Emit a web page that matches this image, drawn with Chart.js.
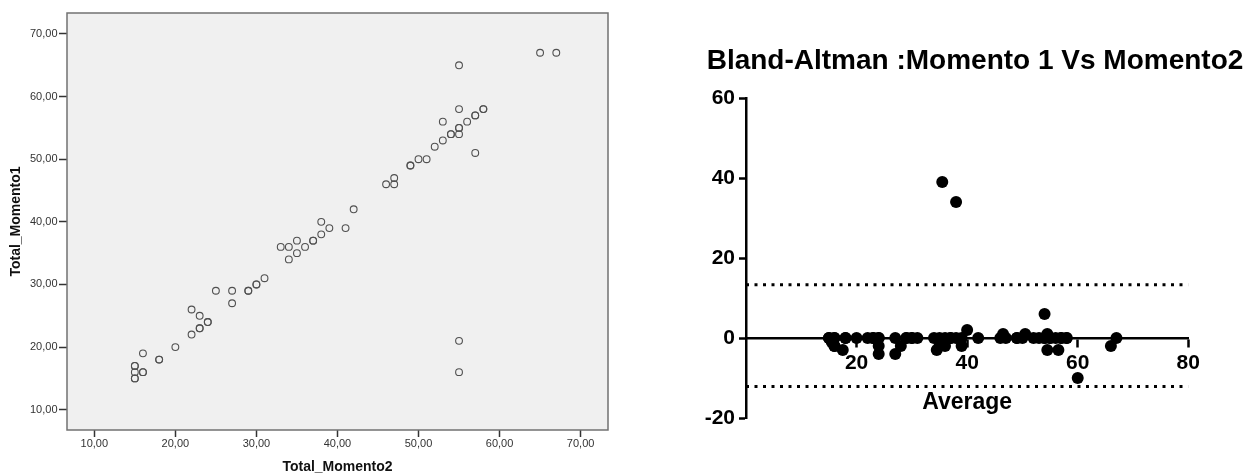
<!DOCTYPE html>
<html>
<head>
<meta charset="utf-8">
<script src="https://cdn.jsdelivr.net/npm/chart.js@4.4.1/dist/chart.umd.min.js"></script>
<style>
  body { margin: 0; background: #fff; width: 1255px; height: 474px; overflow: hidden; position: relative; }
  #scatter { position: absolute; left: 0; top: 0; }
  #bland { position: absolute; left: 660px; top: 0; }
</style>
</head>
<body>
<canvas id="scatter" width="620" height="474"></canvas>
<canvas id="bland" width="630" height="474"></canvas>
<script>
// scatter: Total_Momento2 (x) against Total_Momento1 (y), darker circles are repeated cases
const momento2 = [15, 15, 15, 15, 15, 16, 16, 16, 18, 18, 20, 22, 22, 23, 23, 23, 24, 24, 25, 27, 27, 29, 29, 30, 30, 31, 33, 34, 34, 35, 35, 36, 37, 37, 38, 38, 39, 41, 42, 46, 47, 47, 49, 49, 50, 51, 52, 53, 53, 54, 54, 55, 55, 55, 55, 55, 55, 55, 56, 57, 57, 57, 58, 58, 65, 67];
const momento1 = [15, 15, 16, 17, 17, 16, 16, 19, 18, 18, 20, 22, 26, 23, 23, 25, 24, 24, 29, 27, 29, 29, 29, 30, 30, 31, 36, 34, 36, 35, 37, 36, 37, 37, 38, 40, 39, 39, 42, 46, 46, 47, 49, 49, 50, 50, 52, 53, 56, 54, 54, 16, 21, 54, 55, 55, 58, 65, 56, 51, 57, 57, 58, 58, 67, 67];

// Bland-Altman: average of the two moments and their difference
const baAverage = [15, 15, 15.5, 16, 16, 16, 16, 17.5, 18, 18, 20, 22, 24, 23, 23, 24, 24, 24, 27, 27, 28, 29, 29, 30, 30, 31, 34.5, 34, 35, 35, 36, 36, 37, 37, 38, 39, 39, 40, 42, 46, 46.5, 47, 49, 49, 50, 50.5, 52, 53, 54.5, 54, 54, 35.5, 38, 54.5, 55, 55, 56.5, 60, 56, 54, 57, 57, 58, 58, 66, 67];
const baDifference = [0, 0, -1, -2, -2, 0, 0, -3, 0, 0, 0, 0, -4, 0, 0, -2, 0, 0, -4, 0, -2, 0, 0, 0, 0, 0, -3, 0, -2, 0, -2, 0, 0, 0, 0, -2, 0, 2, 0, 0, 1, 0, 0, 0, 0, 1, 0, 0, -3, 0, 0, 39, 34, 1, 0, 0, -3, -10, 0, 6, 0, 0, 0, 0, -2, 0];
const upperLimit = 13.3;
const lowerLimit = -12.1;

const xTicksLeft = [10, 20, 30, 40, 50, 60, 70];
const yTicksLeft = [10, 20, 30, 40, 50, 60, 70];
const xTicksRight = [20, 40, 60, 80];
const yTicksRight = [-20, 0, 20, 40, 60];

Chart.defaults.font.family = "'Liberation Sans', Arial, sans-serif";

const fmt = v => v.toFixed(2).replace('.', ',');

// grey plot box like SPSS
const plotFrame = {
    id: 'plotFrame',
    beforeDatasetsDraw(chart) {
        const { ctx, chartArea: a } = chart;
        ctx.save();
        ctx.fillStyle = '#f0f0f0';
        ctx.fillRect(a.left, a.top, a.width, a.height);
        ctx.strokeStyle = '#727272';
        ctx.lineWidth = 1.5;
        ctx.strokeRect(a.left, a.top, a.width, a.height);
        ctx.restore();
    }
};

new Chart(document.getElementById('scatter'), {
    type: 'scatter',
    data: {
        datasets: [{
            data: momento2.map((x, i) => ({ x, y: momento1[i] })),
            pointRadius: 3.4,
            pointHoverRadius: 3.4,
            pointBorderWidth: 1.1,
            borderColor: '#505050',
            backgroundColor: 'rgba(0,0,0,0)'
        }]
    },
    options: {
        responsive: false,
        animation: false,
        devicePixelRatio: 1,
        layout: { padding: { top: 13, right: 12, bottom: 0, left: 0 } },
        plugins: { legend: { display: false }, tooltip: { enabled: false } },
        scales: {
            x: {
                type: 'linear', min: 6.63, max: 73.38,
                afterBuildTicks: s => { s.ticks = xTicksLeft.map(v => ({ value: v })); },
                afterFit: s => { s.height = 44; },
                grid: { drawOnChartArea: false, tickLength: 7, tickColor: '#333', tickWidth: 1.5 },
                border: { display: false },
                ticks: { color: '#333', font: { size: 11 }, padding: 0, maxRotation: 0, callback: v => fmt(v) },
                title: { display: true, text: 'Total_Momento2', color: '#111', font: { size: 14, weight: 'bold', lineHeight: 1 }, padding: { top: 0, bottom: 0 } }
            },
            y: {
                type: 'linear', min: 6.76, max: 73.35,
                afterBuildTicks: s => { s.ticks = yTicksLeft.map(v => ({ value: v })); },
                afterFit: s => { s.width = 67; },
                grid: { drawOnChartArea: false, tickLength: 8, tickColor: '#333', tickWidth: 1.5 },
                border: { display: false },
                ticks: { color: '#333', font: { size: 11 }, padding: 1.5, callback: v => fmt(v) },
                title: { display: true, text: 'Total_Momento1', color: '#111', font: { size: 14, weight: 'bold', lineHeight: 1 }, padding: { top: 9, bottom: 0 } }
            }
        }
    },
    plugins: [plotFrame]
});

new Chart(document.getElementById('bland'), {
    type: 'scatter',
    data: {
        datasets: [{
            data: baAverage.map((x, i) => ({ x, y: baDifference[i] })),
            pointRadius: 6,
            pointHoverRadius: 6,
            pointBorderWidth: 0,
            backgroundColor: '#000',
            borderColor: '#000'
        }, {
            data: [{ x: 0, y: upperLimit }, { x: 80, y: upperLimit }],
            showLine: true, pointRadius: 0, borderColor: '#000', borderWidth: 3, borderDash: [3, 5.5]
        }, {
            data: [{ x: 0, y: lowerLimit }, { x: 80, y: lowerLimit }],
            showLine: true, pointRadius: 0, borderColor: '#000', borderWidth: 3, borderDash: [3, 5.5]
        }]
    },
    options: {
        responsive: false,
        animation: false,
        devicePixelRatio: 1,
        layout: { padding: { top: 0, right: 0, bottom: 56, left: 0 } },
        plugins: {
            legend: { display: false },
            tooltip: { enabled: false },
            title: {
                display: true,
                text: 'Bland-Altman :Momento 1 Vs Momento2',
                color: '#000',
                font: { size: 28, weight: 'bold', lineHeight: 1.2 },
                padding: { top: 44, bottom: 20.5 }
            }
        },
        scales: {
            x: {
                type: 'linear', min: 0, max: 80, position: { y: 0 },
                afterBuildTicks: s => { s.ticks = xTicksRight.map(v => ({ value: v })); },
                grid: { drawOnChartArea: false, tickLength: 8, tickColor: '#000', tickWidth: 2.5 },
                border: { color: '#000', width: 2.5 },
                ticks: { color: '#000', font: { size: 21, weight: 'bold' }, padding: 5, maxRotation: 0 },
                title: { display: true, text: 'Average', color: '#000', font: { size: 23, weight: 'bold', lineHeight: 1.2 }, padding: { top: 8, bottom: 0 } }
            },
            y: {
                type: 'linear', min: -20, max: 60,
                afterBuildTicks: s => { s.ticks = yTicksRight.map(v => ({ value: v })); },
                afterFit: s => { s.width = 86; },
                grid: { drawOnChartArea: false, tickLength: 7, tickColor: '#000', tickWidth: 2.5 },
                border: { color: '#000', width: 2.5 },
                ticks: { color: '#000', font: { size: 21, weight: 'bold' }, padding: 4 }
            },
            // empty right margin so the title can be centred wider than the plot
            yRight: {
                type: 'linear', position: 'right', min: -20, max: 60,
                afterFit: s => { s.width = 101.7; },
                grid: { display: false },
                border: { display: false },
                ticks: { display: false }
            }
        }
    }
});
</script>
</body>
</html>
